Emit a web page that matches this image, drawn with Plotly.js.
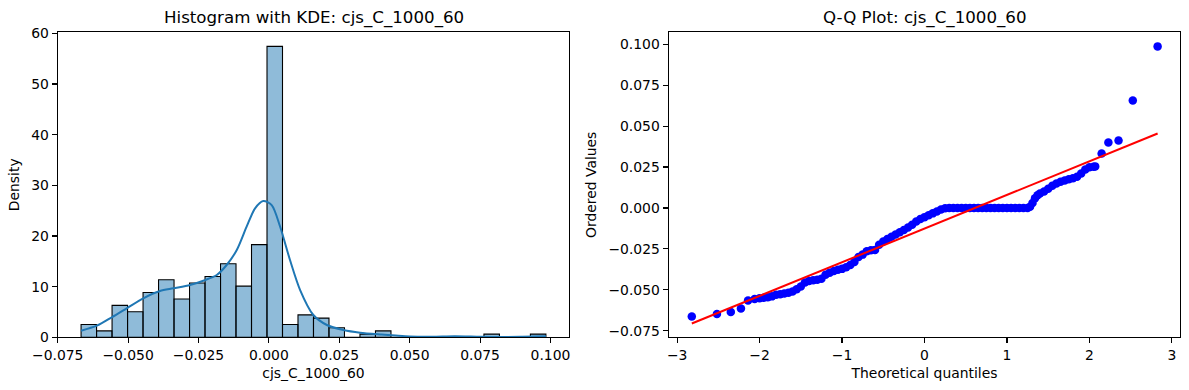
<!DOCTYPE html>
<html>
<head>
<meta charset="utf-8">
<script src="https://cdn.plot.ly/plotly-3.0.1.min.js"></script>
<style>html,body{margin:0;padding:0;background:#fff;}#chart{width:1189px;height:390px;}</style>
</head>
<body>
<div id="chart"></div>
<script>
// ---------- Histogram (density) ----------
const binStart = -0.0667;
const binWidth = 0.005503;
const histDensity = [2.52, 1.26, 6.31, 5.05, 8.83, 11.36, 7.57, 10.73, 11.99, 14.51, 10.10, 18.30, 57.42, 2.52, 4.42, 3.79, 1.89, 0, 0.63, 1.26, 0, 0, 0, 0, 0, 0, 0.63, 0, 0, 0.63];

// ---------- KDE curve ----------
const kdeX = [-0.0667, -0.0611, -0.0558, -0.0505, -0.0446, -0.0387, -0.0339, -0.0280, -0.0233, -0.0185, -0.0150, -0.0114, -0.0079, -0.0049, -0.0020, 0.0010, 0.0040, 0.0075, 0.0111, 0.0158, 0.0206, 0.0265, 0.0324, 0.0400, 0.0450, 0.0500, 0.0580, 0.0660, 0.0750, 0.0820, 0.0900, 0.0984];
const kdeY = [1.30, 2.29, 3.95, 5.72, 7.70, 9.14, 9.67, 10.32, 11.17, 12.30, 14.27, 17.23, 21.83, 25.46, 26.90, 26.10, 21.83, 15.26, 9.33, 4.40, 2.43, 1.44, 0.91, 0.55, 0.35, 0.17, 0.12, 0.21, 0.09, 0.04, 0.10, 0.21];

// ---------- Q-Q plot (theoretical quantile, ordered value) ----------
const qqX = [-2.822, -2.517, -2.349, -2.226, -2.14, -2.06, -2.00, -1.95, -1.90, -1.85, -1.80, -1.75, -1.70, -1.65, -1.60, -1.55, -1.50, -1.45, -1.40, -1.35, -1.30, -1.25, -1.20, -1.15, -1.10, -1.05, -1.00, -0.95, -0.90, -0.85, -0.80, -0.75, -0.70, -0.65, -0.60, -0.55, -0.50, -0.45, -0.40, -0.35, -0.30, -0.25, -0.20, -0.15, -0.10, -0.05, 0.00, 0.05, 0.10, 0.15, 0.20, 0.25, 0.30, 0.35, 0.40, 0.45, 0.50, 0.55, 0.60, 0.65, 0.70, 0.75, 0.80, 0.85, 0.90, 0.95, 1.00, 1.05, 1.10, 1.15, 1.20, 1.25, 1.28, 1.31, 1.34, 1.37, 1.40, 1.45, 1.50, 1.55, 1.60, 1.65, 1.70, 1.75, 1.80, 1.85, 1.90, 1.95, 2.00, 2.05, 2.07, 2.148, 2.230, 2.353, 2.526, 2.827];
const qqY = [-0.0663, -0.0648, -0.0636, -0.0614, -0.0565, -0.0556, -0.0552, -0.0549, -0.0546, -0.0540, -0.0530, -0.0527, -0.0522, -0.0518, -0.0510, -0.0497, -0.0480, -0.0455, -0.0446, -0.0442, -0.0438, -0.0432, -0.0408, -0.0395, -0.0385, -0.0378, -0.0372, -0.0362, -0.0348, -0.0330, -0.0300, -0.0285, -0.0265, -0.0258, -0.0256, -0.0225, -0.0205, -0.0190, -0.0176, -0.0162, -0.0148, -0.0135, -0.0120, -0.0102, -0.0082, -0.0068, -0.0056, -0.0045, -0.0033, -0.0021, -0.0010, -0.0002, 0, 0, 0, 0, 0, 0, 0, 0, 0, 0, 0, 0, 0, 0, 0, 0, 0, 0, 0, 0, 0.0008, 0.0030, 0.0060, 0.0078, 0.0088, 0.0100, 0.0118, 0.0135, 0.0150, 0.0160, 0.0168, 0.0176, 0.0182, 0.0190, 0.0210, 0.0235, 0.0248, 0.0252, 0.0254, 0.0332, 0.0400, 0.0412, 0.0657, 0.0987];

// ---------- Fit line ----------
const fitX = [-2.822, 2.827];
const fitY = [-0.0706, 0.0455];

const histCenters = histDensity.map((_, i) => binStart + binWidth * (i + 0.5));

const FONT = 'DejaVu Sans, sans-serif';
const tickFont = {family: FONT, size: 13.9, color: '#000'};
const labFont = {family: FONT, size: 13.9, color: '#000'};

const axisBase = {
  showgrid: false, zeroline: false, showline: true, mirror: true,
  linecolor: '#000', linewidth: 1.1, ticks: 'outside', ticklen: 5, tickwidth: 1.1,
  tickcolor: '#000', tickfont: tickFont, fixedrange: true
};

const traces = [
  {
    type: 'bar', x: histCenters, y: histDensity, width: binWidth,
    marker: {color: 'rgba(31,119,180,0.5)', line: {color: '#000', width: 1.1}},
    xaxis: 'x', yaxis: 'y', hoverinfo: 'skip'
  },
  {
    type: 'scatter', mode: 'lines', x: kdeX, y: kdeY,
    line: {color: '#1f77b4', width: 2, shape: 'spline', smoothing: 0.8},
    xaxis: 'x', yaxis: 'y'
  },
  {
    type: 'scatter', mode: 'markers', x: qqX, y: qqY,
    marker: {color: '#0000ff', size: 8.5},
    xaxis: 'x2', yaxis: 'y2'
  },
  {
    type: 'scatter', mode: 'lines', x: fitX, y: fitY,
    line: {color: '#ff0000', width: 2},
    xaxis: 'x2', yaxis: 'y2'
  }
];

const layout = {
  width: 1189, height: 390,
  margin: {l: 0, r: 0, t: 0, b: 0},
  paper_bgcolor: '#fff', plot_bgcolor: '#fff',
  showlegend: false, bargap: 0,
  font: {family: FONT, color: '#000'},
  xaxis: Object.assign({}, axisBase, {
    domain: [0.04853, 0.47881], range: [-0.0750, 0.1067], anchor: 'y',
    tickmode: 'array', tickvals: [-0.075, -0.05, -0.025, 0, 0.025, 0.05, 0.075, 0.1],
    tickformat: '.3f',
    title: {text: 'cjs_C_1000_60', font: labFont, standoff: 6}
  }),
  yaxis: Object.assign({}, axisBase, {
    domain: [0.13513, 0.91718], range: [0, 60.2], anchor: 'x',
    tickmode: 'array', tickvals: [0, 10, 20, 30, 40, 50, 60],
    title: {text: 'Density', font: labFont, standoff: 8}
  }),
  xaxis2: Object.assign({}, axisBase, {
    domain: [0.56241, 0.99268], range: [-3.102, 3.102], anchor: 'y2',
    tickmode: 'array', tickvals: [-3, -2, -1, 0, 1, 2, 3],
    title: {text: 'Theoretical quantiles', font: labFont, standoff: 6}
  }),
  yaxis2: Object.assign({}, axisBase, {
    domain: [0.13513, 0.91718], range: [-0.0790, 0.1073], anchor: 'x2',
    tickmode: 'array', tickvals: [-0.075, -0.05, -0.025, 0, 0.025, 0.05, 0.075, 0.1],
    tickformat: '.3f',
    title: {text: 'Ordered Values', font: labFont, standoff: 8}
  }),
  annotations: [
    {text: 'Histogram with KDE: cjs_C_1000_60', xref: 'paper', yref: 'paper',
     x: (0.04853 + 0.47881) / 2, y: 1 - 17.8 / 390, xanchor: 'center', yanchor: 'middle',
     showarrow: false, font: {family: FONT, size: 16.67, color: '#000'}},
    {text: 'Q-Q Plot: cjs_C_1000_60', xref: 'paper', yref: 'paper',
     x: (0.56241 + 0.99268) / 2, y: 1 - 17.8 / 390, xanchor: 'center', yanchor: 'middle',
     showarrow: false, font: {family: FONT, size: 16.67, color: '#000'}}
  ]
};

Plotly.newPlot('chart', traces, layout, {displayModeBar: false, staticPlot: true});
</script>
</body>
</html>
